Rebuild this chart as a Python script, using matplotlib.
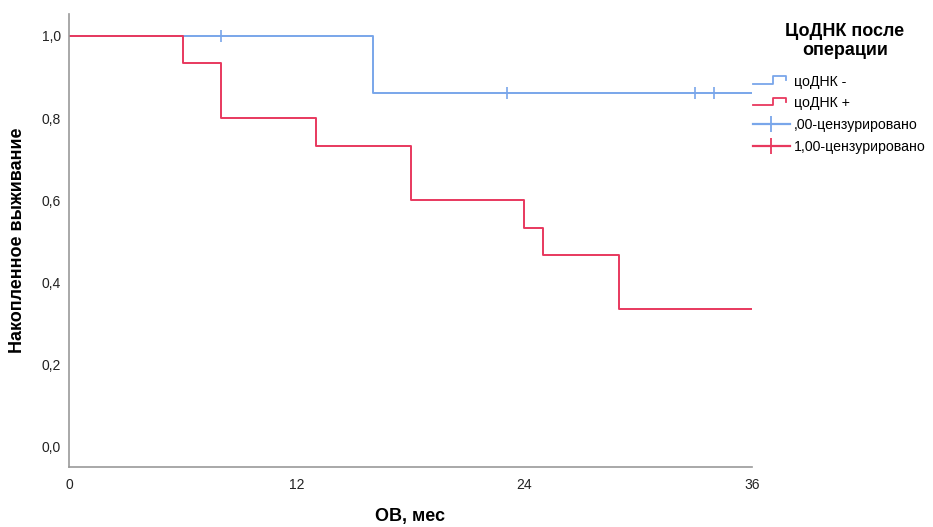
"""
plot.py

Kaplan-Meier style survival chart (SPSS look), saved as out.png.
"""

import matplotlib
matplotlib.use("Agg")

import matplotlib.pyplot as plt
from matplotlib.legend_handler import HandlerBase
from matplotlib.lines import Line2D

plt.rcParams["font.family"] = ["Liberation Sans", "DejaVu Sans"]

COLOR_NEG = "#79A6EA"
COLOR_POS = "#E8385E"

# survival steps: event times and survival after each event
neg_times = [0, 16, 36]
neg_surv = [1.0, 0.86, 0.86]
neg_censor_times = [8, 23.1, 33, 34]

pos_times = [0, 6, 8, 13, 18, 24, 25, 29, 36]
pos_surv = [1.0, 0.933, 0.80, 0.733, 0.60, 0.533, 0.467, 0.335, 0.335]
pos_censor_times = []

x_ticks = [0, 12, 24, 36]
y_ticks = [0.0, 0.2, 0.4, 0.6, 0.8, 1.0]
y_tick_labels = ["0,0", "0,2", "0,4", "0,6", "0,8", "1,0"]


def surv_at(times, surv, t):
    val = surv[0]
    for ti, si in zip(times, surv):
        if ti <= t:
            val = si
    return val


class StepHandler(HandlerBase):
    """Draws the small step icon SPSS uses for survival curves."""

    def create_artists(self, legend, orig_handle, xdescent, ydescent,
                       width, height, fontsize, trans):
        x0, x1 = -xdescent, -xdescent + width
        ym = -ydescent + height * 0.2
        yt = -ydescent + height * 0.95
        xm = x0 + width * 0.55
        xs = [x0, xm, xm, x1 - width * 0.1, x1 - width * 0.1]
        ys = [ym, ym, yt, yt, ym + height * 0.35]
        line = Line2D(xs, ys, color=orig_handle.get_color(), lw=1.3, transform=trans)
        return [line]


fig = plt.figure(figsize=(9.33, 5.27), dpi=100)
ax = fig.add_axes([0.074, 0.114, 0.732, 0.859])

ax.step(neg_times, neg_surv, where="post", color=COLOR_NEG, lw=1.4)
ax.step(pos_times, pos_surv, where="post", color=COLOR_POS, lw=1.4)

ax.plot(neg_censor_times, [surv_at(neg_times, neg_surv, t) for t in neg_censor_times],
        linestyle="none", marker="|", markersize=9, mew=1.2, color=COLOR_NEG)
if pos_censor_times:
    ax.plot(pos_censor_times, [surv_at(pos_times, pos_surv, t) for t in pos_censor_times],
            linestyle="none", marker="|", markersize=9, mew=1.2, color=COLOR_POS)

ax.set_xlim(0, 36)
ax.set_ylim(-0.05, 1.053)
ax.set_xticks(x_ticks)
ax.set_yticks(y_ticks)
ax.set_yticklabels(y_tick_labels)
ax.tick_params(length=0, labelsize=10, colors="#222222", pad=6)
ax.tick_params(axis="x", pad=8)

for side in ("top", "right"):
    ax.spines[side].set_visible(False)
for side in ("left", "bottom"):
    ax.spines[side].set_color("#999999")
    ax.spines[side].set_linewidth(1.2)

fig.text(410 / 933, 1 - 517 / 527, "ОВ, мес", fontsize=13, fontweight="bold",
         ha="center", va="center")
fig.text(18 / 933, 1 - 240 / 527, "Накопленное выживание", fontsize=13,
         fontweight="bold", ha="center", va="center", rotation=90)

fig.text(845 / 933, 1 - 41 / 527, "ЦоДНК после\nоперации", fontsize=13,
         fontweight="bold", ha="center", va="center", linespacing=1.1)

h_neg = Line2D([], [], color=COLOR_NEG)
h_pos = Line2D([], [], color=COLOR_POS)
h_cn = Line2D([], [], color=COLOR_NEG, marker="|", markersize=11, mew=1.3, lw=1.6)
h_cp = Line2D([], [], color=COLOR_POS, marker="|", markersize=11, mew=1.3, lw=1.6)

leg = fig.legend(
    [h_neg, h_pos, h_cn, h_cp],
    ["цоДНК -", "цоДНК +", ",00-цензурировано", "1,00-цензурировано"],
    handler_map={h_neg: StepHandler(), h_pos: StepHandler()},
    loc="upper left",
    bbox_to_anchor=(747 / 933, 1 - 69 / 527),
    borderaxespad=0,
    frameon=False,
    fontsize=10.2,
    handlelength=2.6,
    handletextpad=0.3,
    labelspacing=0.55,
)

fig.savefig("out.png", dpi=100)
